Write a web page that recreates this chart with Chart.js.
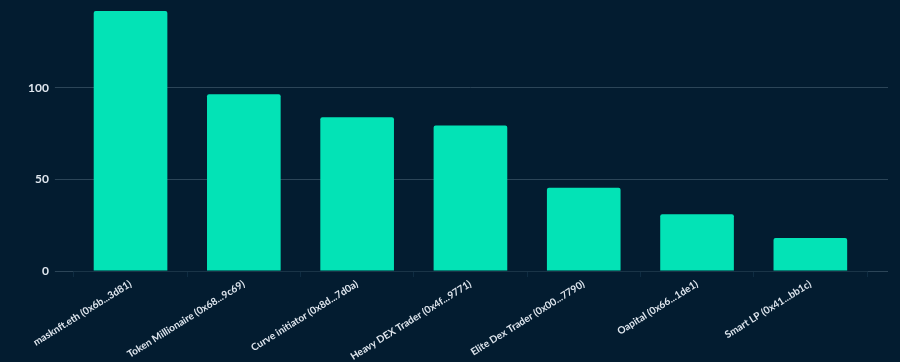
<!DOCTYPE html>
<html>
<head>
<meta charset="utf-8">
<script src="https://cdn.jsdelivr.net/npm/chart.js@4.4.1/dist/chart.umd.min.js"></script>
<style>
  html, body { margin: 0; padding: 0; background: #031c30; }
  #wrap { width: 900px; height: 362px; }
</style>
</head>
<body>
<div id="wrap"><canvas id="chart"></canvas></div>
<script>
// wallets on the x axis
var labels = [
  'masknft.eth (0x6b...3d81)',
  'Token Millionaire (0x68...9c69)',
  'Curve initiator (0x8d...7d0a)',
  'Heavy DEX Trader (0x4f...9771)',
  'Elite Dex Trader (0x00...7790)',
  'Oapital (0x66...1de1)',
  'Smart LP (0x41...bb1c)'
];
var values = [142, 96.5, 84, 79.5, 45.5, 31, 18];
var yTicks = [0, 50, 100];

var gridColor = '#2c4558';
var textColor = '#dfe6ee';

function setTicks(axis) {
  axis.ticks = yTicks.map(function(v) { return { value: v }; });
}
function noTopPad(axis) {
  axis.paddingTop = 0;
}

var config = {
  type: 'bar',
  data: {
    labels: labels,
    datasets: [{
      data: values,
      backgroundColor: '#03e3b6',
      borderRadius: 2,
      borderSkipped: 'bottom',
      barPercentage: 0.65,
      categoryPercentage: 1
    }]
  },
  options: {
    responsive: true,
    maintainAspectRatio: false,
    animation: false,
    layout: { padding: { left: 22, right: 12, top: 0, bottom: 0 } },
    plugins: { legend: { display: false }, tooltip: { enabled: false } },
    scales: {
      x: {
        afterFit: function(axis) { axis.height = 91; },
        grid: { display: true, drawOnChartArea: false, tickLength: 6, color: '#0e2c42' },
        border: { display: true, color: '#1a3447' },
        ticks: {
          color: textColor,
          font: { family: 'Lato', size: 10, weight: 'bold' },
          minRotation: 32,
          maxRotation: 32,
          padding: 1
        }
      },
      y: {
        min: 0,
        max: 148,
        afterBuildTicks: setTicks,
        afterFit: noTopPad,
        grid: { color: gridColor, tickLength: 19, lineWidth: 1 },
        border: { display: false },
        ticks: {
          color: textColor,
          font: { family: 'Lato', size: 12, weight: 'bold' },
          padding: 6
        }
      },
      y2: {
        position: 'right',
        min: 0,
        max: 148,
        afterBuildTicks: setTicks,
        afterFit: noTopPad,
        grid: { color: gridColor, tickLength: 21, drawOnChartArea: false },
        border: { display: false },
        ticks: { display: false }
      }
    }
  }
};

window.onload = function() {
  var ctx = document.getElementById('chart').getContext('2d');
  window.myChart = new Chart(ctx, config);
};
</script>
</body>
</html>
